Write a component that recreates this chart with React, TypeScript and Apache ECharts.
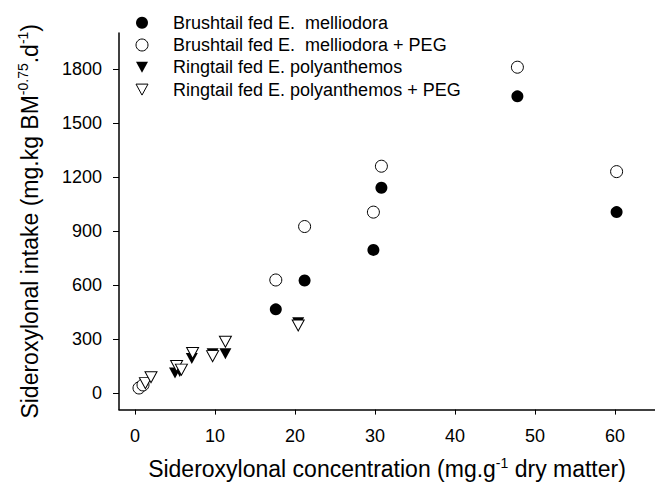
import React, { useEffect, useRef } from "react";
import * as echarts from "echarts";

// Brushtail possums fed E. melliodora
const brushX = [17.6, 21.2, 29.8, 30.8, 47.8, 60.2];
const brushY = [465, 625, 795, 1140, 1648, 1005];
// Brushtail possums fed E. melliodora + PEG
const brushPegX = [0.5, 1.0, 17.6, 21.2, 29.8, 30.8, 47.8, 60.2];
const brushPegY = [28, 45, 628, 925, 1005, 1260, 1810, 1230];
// Ringtail possums fed E. polyanthemos
const ringX = [5.0, 5.6, 7.1, 9.7, 11.3, 20.4];
const ringY = [112, 120, 192, 218, 218, 390];
// Ringtail possums fed E. polyanthemos + PEG
const ringPegX = [1.3, 2.0, 5.2, 5.8, 7.2, 9.7, 11.3, 20.4];
const ringPegY = [55, 88, 150, 130, 222, 205, 285, 375];

const xTicks = [0, 10, 20, 30, 40, 50, 60];
const yTicks = [0, 300, 600, 900, 1200, 1500, 1800];

const seriesNames = [
  "Brushtail fed E.  melliodora",
  "Brushtail fed E.  melliodora + PEG",
  "Ringtail fed E. polyanthemos",
  "Ringtail fed E. polyanthemos + PEG",
];
const legendSymbols = ["circle", "circle", "tri", "tri"];
const legendFilled = [true, false, true, false];

const FONT = "'Liberation Sans', Arial, Helvetica, sans-serif";
const TRI = "path://M0,0L12,0L6,11Z";

function zip(xs: number[], ys: number[]) {
  return xs.map((x, i) => [x, ys[i]]);
}

function legendGraphics() {
  const els: any[] = [];
  const mx = 142;
  const tx = 173;
  const y0 = 22.7;
  const step = 22.3;
  seriesNames.forEach((name, i) => {
    const yc = y0 + i * step;
    const style = legendFilled[i]
      ? { fill: "#000", stroke: "#000", lineWidth: 0 }
      : { fill: "#fff", stroke: "#000", lineWidth: 1 };
    if (legendSymbols[i] === "circle") {
      els.push({ type: "circle", shape: { cx: mx, cy: yc, r: 6 }, style });
    } else {
      els.push({
        type: "polygon",
        shape: { points: [[mx - 6, yc - 5.5], [mx + 6, yc - 5.5], [mx, yc + 5.5]] },
        style,
      });
    }
    els.push({
      type: "text",
      x: tx,
      y: yc,
      style: {
        text: name,
        fill: "#000",
        font: `18px ${FONT}`,
        textAlign: "left",
        textVerticalAlign: "middle",
        verticalAlign: "middle",
      },
    });
  });
  return els;
}

export default function App() {
  const ref = useRef<HTMLDivElement>(null);
  useEffect(() => {
    if (!ref.current) return;
    const chart = echarts.init(ref.current, undefined, { renderer: "svg" });
    const filled = { color: "#000", borderColor: "#000", borderWidth: 0, opacity: 1 };
    const open = { color: "#fff", borderColor: "#000", borderWidth: 1, opacity: 1 };
    const richTitle = {
      n: { fontSize: 23, fontFamily: FONT, color: "#000", lineHeight: 27 },
      sup: { fontSize: 14, fontFamily: FONT, color: "#000", verticalAlign: "top", lineHeight: 14 },
    };
    chart.setOption({
      animation: false,
      backgroundColor: "#fff",
      textStyle: { fontFamily: FONT },
      grid: { left: 119, top: 33, width: 538, height: 376.6 },
      graphic: legendGraphics(),
      xAxis: {
        type: "value",
        min: -2,
        max: 65,
        axisLine: { show: true, onZero: false, lineStyle: { color: "#000", width: 1.5 } },
        axisTick: { show: true, customValues: xTicks, length: 5, lineStyle: { color: "#000", width: 1 } },
        axisLabel: {
          customValues: xTicks,
          fontSize: 18,
          color: "#000",
          margin: 17,
          fontFamily: FONT,
          formatter: (v: number) => String(v),
        },
        splitLine: { show: false },
        name: "{n|Sideroxylonal concentration (mg.g}{sup|-1}{n| dry matter)}",
        nameLocation: "middle",
        nameGap: 46,
        nameTextStyle: { rich: richTitle },
      },
      yAxis: {
        type: "value",
        min: -92,
        max: 2000,
        axisLine: { show: true, onZero: false, lineStyle: { color: "#000", width: 1.5 } },
        axisTick: { show: true, customValues: yTicks, length: 6, lineStyle: { color: "#000", width: 1 } },
        axisLabel: {
          customValues: yTicks,
          fontSize: 18,
          color: "#000",
          margin: 17,
          fontFamily: FONT,
          formatter: (v: number) => String(v),
        },
        splitLine: { show: false },
        name: "{n|Sideroxylonal intake (mg.kg BM}{sup|-0.75}{n|.d}{sup|-1}{n|)}",
        nameLocation: "middle",
        nameGap: 76,
        nameRotate: 90,
        nameTextStyle: { rich: richTitle },
      },
      series: [
        { name: seriesNames[0], type: "scatter", symbol: "circle", symbolSize: 12, itemStyle: filled, data: zip(brushX, brushY) },
        { name: seriesNames[1], type: "scatter", symbol: "circle", symbolSize: 12, itemStyle: open, data: zip(brushPegX, brushPegY) },
        { name: seriesNames[2], type: "scatter", symbol: TRI, symbolSize: [12, 11], itemStyle: filled, data: zip(ringX, ringY) },
        { name: seriesNames[3], type: "scatter", symbol: TRI, symbolSize: [12, 11], itemStyle: open, data: zip(ringPegX, ringPegY) },
      ],
    });
    return () => chart.dispose();
  }, []);
  return (
    <div
      ref={ref}
      style={{ position: "fixed", left: 0, top: 0, width: 655, height: 491, background: "#fff" }}
    />
  );
}
